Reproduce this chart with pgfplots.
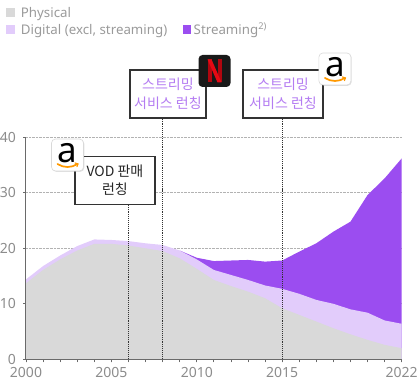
\documentclass[border=0pt]{standalone}
\usepackage{fontspec}
\setmainfont{Noto Sans}
\newfontfamily\kr{Noto Sans CJK KR}
\usepackage{pgfplots}
\usepackage{pgfplotstable}
\pgfplotsset{compat=1.18}
\usetikzlibrary{shadows}

\definecolor{physc}{HTML}{D9D9D9}
\definecolor{digc}{HTML}{E2CCFB}
\definecolor{streamc}{HTML}{9B4DF0}
\definecolor{kpurple}{HTML}{B47CF2}
\definecolor{legtext}{HTML}{9A9A9A}
\definecolor{ticktext}{HTML}{8C8C8C}
\definecolor{axisgray}{HTML}{6A6A6A}
\definecolor{nfred}{HTML}{E50914}
\definecolor{nfdark}{HTML}{B1060F}
\definecolor{amzorange}{HTML}{FF9900}

% Cumulative levels: physical, physical+digital, total (incl. streaming)
\pgfplotstableread{
year phys digtop total
2000 13.7 14.4 14.4
2001 16.1 16.8 16.8
2002 18.0 18.7 18.7
2003 19.6 20.4 20.4
2004 20.8 21.6 21.6
2005 20.8 21.5 21.5
2006 20.5 21.3 21.3
2007 20.0 20.9 20.9
2008 19.5 20.6 20.6
2009 18.2 19.6 19.6
2010 16.3 18.0 18.3
2011 14.3 16.1 17.7
2012 13.2 15.2 17.8
2013 12.2 14.3 17.9
2014 11.0 13.3 17.6
2015 9.2 12.7 17.8
2016 8.0 11.8 19.4
2017 6.8 10.7 20.9
2018 5.6 10.0 23.0
2019 4.5 9.0 24.8
2020 3.5 8.4 29.6
2021 2.6 7.0 32.6
2022 2.0 6.4 36.2
}\market

\tikzset{
  callout/.style={draw=black!80, line width=1.2bp, fill=white, align=center,
    inner sep=0pt, minimum height=48bp,
    drop shadow={shadow xshift=1bp, shadow yshift=-1bp, opacity=0.3},
    font=\kr\fontsize{14bp}{18.5bp}\selectfont},
  launch/.style={densely dotted, line width=1.1bp, draw=black!80},
  amzbox/.style={draw=black!15, line width=0.6bp, fill=white, rounded corners=4bp,
    minimum size=32bp, drop shadow={shadow xshift=0.8bp, shadow yshift=-0.8bp, opacity=0.25}},
}

\newcommand{\amazonlogo}[1]{%
  \begin{scope}[shift={#1}]
    \node[amzbox] at (0bp,0bp) {};
    \node[inner sep=0pt, font=\bfseries\fontsize{35bp}{35bp}\selectfont] at (0bp,1.5bp) {a};
    \draw[amzorange, line width=1.7bp, line cap=round]
      (-10bp,-9bp) .. controls (-4bp,-13bp) and (4bp,-13bp) .. (10bp,-9bp);
    \draw[amzorange, line width=1.2bp, line cap=round] (7.5bp,-8bp) -- (10.5bp,-9bp) -- (9.5bp,-11.5bp);
  \end{scope}}

\begin{document}
\begin{tikzpicture}[x=1bp,y=1bp]
\path[use as bounding box] (-26,-27.7) rectangle (391,359.3);
\begin{axis}[
  at={(0,0)}, anchor=south west,
  scale only axis, width=375.7bp, height=222bp,
  xmin=2000, xmax=2022, ymin=0, ymax=40,
  axis lines*=left, clip=false, no markers,
  xtick={2000,2005,2010,2015,2022},
  minor xtick={2000,...,2022},
  ytick={0,10,20,30,40},
  tick align=outside,
  major tick length=3bp, minor tick length=3bp,
  ymajorgrids,
  grid style={densely dotted, line width=0.9bp, draw=black!30},
  axis line style={draw=axisgray, line width=1bp},
  tick style={draw=axisgray, line width=0.8bp},
  /pgf/number format/1000 sep={},
  /pgf/number format/assume math mode=true,
  tick label style={font=\fontsize{14bp}{16bp}\selectfont, text=ticktext},
  yticklabel style={xshift=-3.5bp},
  xticklabel style={yshift=-2bp},
]
% areas, back to front
\addplot[fill=streamc, draw=none, restrict x to domain=2009:2022]
  table[x=year, y=total] {\market} \closedcycle;
\addplot[fill=digc, draw=none] table[x=year, y=digtop] {\market} \closedcycle;
\addplot[fill=physc, draw=none] table[x=year, y=phys] {\market} \closedcycle;

% axis lines over the areas
\draw[axisgray, line width=1bp] (axis cs:2000,40) -- (axis cs:2000,0) -- (axis cs:2022,0);

% launch markers
\draw[launch] (axis cs:2006,0) -- (axis cs:2006,27.98);
\draw[launch] (axis cs:2008,0) -- (axis cs:2008,43.5);
\draw[launch] (axis cs:2015,0) -- (axis cs:2015,43.5);

\node[callout, minimum width=80bp, text=black!85] at (axis cs:2005.21,32.22)
  {VOD 판매\\런칭};
\node[callout, minimum width=76bp, text=kpurple] at (axis cs:2008.31,47.8)
  {스트리밍\\서비스 런칭};
\node[callout, minimum width=80bp, text=kpurple] at (axis cs:2015.05,47.8)
  {스트리밍\\서비스 런칭};

% Netflix
\begin{scope}[shift={(axis cs:2011.04,51.95)}]
  \node[fill=black!90, rounded corners=4bp, minimum size=32bp, inner sep=0pt] at (0bp,0bp) {};
  \fill[nfdark] (-7bp,-11.5bp) rectangle (-3bp,11.5bp);
  \fill[nfdark] (3bp,-11.5bp) rectangle (7bp,11.5bp);
  \fill[nfred] (-7bp,11.5bp) -- (-3bp,11.5bp) -- (7bp,-11.5bp) -- (3bp,-11.5bp) -- cycle;
\end{scope}

% Amazon
\amazonlogo{(axis cs:2018.09,52.31)}
\amazonlogo{(axis cs:2002.43,36.81)}
\end{axis}

% legend
\fill[physc] (-20,342.3) rectangle (-11,351.3);
\node[anchor=base west, inner sep=0pt, text=legtext, font=\fontsize{13.3bp}{15bp}\selectfont]
  at (-5.3,342.3) {Physical};
\fill[digc] (-20,325.3) rectangle (-11,334.3);
\node[anchor=base west, inner sep=0pt, text=legtext, font=\fontsize{13.3bp}{15bp}\selectfont]
  at (-5.3,325.0) {Digital (excl, streaming)};
\fill[streamc] (156.7,325.3) rectangle (165.2,334.3);
\node[anchor=base west, inner sep=0pt, text=legtext, font=\fontsize{13.3bp}{15bp}\selectfont]
  at (167.5,325.0) {Streaming\textsuperscript{2)}};
\end{tikzpicture}
\end{document}
